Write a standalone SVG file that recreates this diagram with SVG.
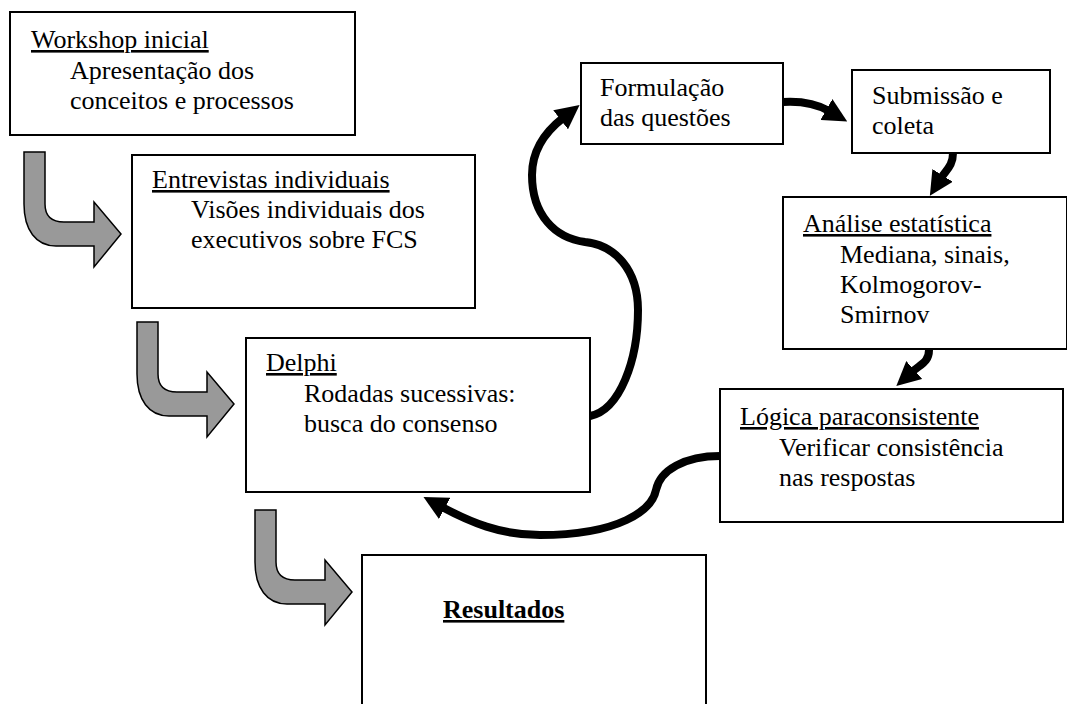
<svg xmlns="http://www.w3.org/2000/svg" xmlns:xlink="http://www.w3.org/1999/xlink" width="1067" height="704" viewBox="0 0 1067 704" font-family="'Liberation Serif', 'DejaVu Serif', serif">
<style>
.box{fill:#fff;stroke:#000;stroke-width:2}
text{font-family:'Liberation Serif','DejaVu Serif',serif;font-size:26px;fill:#000}
.t{text-decoration:underline}
.b{font-weight:bold;text-decoration:underline}
.con{fill:none;stroke:#000;stroke-width:8}
.garr{fill:#999;stroke:#000;stroke-width:1.5;stroke-linejoin:miter}
</style>
<defs>
<marker id="ah" viewBox="0 0 24 24" refX="3" refY="12" markerWidth="24" markerHeight="24" orient="auto" markerUnits="userSpaceOnUse"><path d="M0,0 L24,12 L0,24 Z" fill="#000"/></marker>
<path id="bend" d="M0,0 H21 V52 Q21,70 40,70 H70 V50 L97,82 L70,115 V94 H32 C12,94 0,78 0,52 Z"/>
</defs>
<rect width="1067" height="704" fill="#fff"/>
<g id="workshop">
<rect class="box" x="10" y="12" width="345" height="123"/>
<text x="31" y="48" class="t">Workshop inicial</text>
<text x="70" y="79">Apresentação dos</text>
<text x="70" y="109">conceitos e processos</text>
</g>
<g id="entrevistas">
<rect class="box" x="132" y="155" width="343" height="153"/>
<text x="152" y="188" class="t">Entrevistas individuais</text>
<text x="191" y="218">Visões individuais dos</text>
<text x="191" y="248">executivos sobre FCS</text>
</g>
<g id="delphi">
<rect class="box" x="246" y="338" width="344" height="154"/>
<text x="266" y="371" class="t">Delphi</text>
<text x="304" y="402">Rodadas sucessivas:</text>
<text x="304" y="432">busca do consenso</text>
</g>
<g id="resultados">
<rect class="box" x="362" y="555" width="344" height="160"/>
<text x="443" y="618" class="b">Resultados</text>
</g>
<g id="formulacao">
<rect class="box" x="581" y="63" width="202" height="81"/>
<text x="600" y="96">Formulação</text>
<text x="600" y="126">das questões</text>
</g>
<g id="submissao">
<rect class="box" x="852" y="70" width="198" height="83"/>
<text x="872" y="104">Submissão e</text>
<text x="872" y="134">coleta</text>
</g>
<g id="analise">
<rect class="box" x="783" y="197" width="284" height="152"/>
<text x="803" y="232" class="t">Análise estatística</text>
<text x="840" y="263">Mediana, sinais,</text>
<text x="840" y="293">Kolmogorov-</text>
<text x="840" y="323">Smirnov</text>
</g>
<g id="logica">
<rect class="box" x="720" y="389" width="343" height="133"/>
<text x="740" y="425" class="t">Lógica paraconsistente</text>
<text x="779" y="456">Verificar consistência</text>
<text x="779" y="486">nas respostas</text>
</g>
<g id="connectors">
<use xlink:href="#bend" class="garr" transform="translate(24,152)"/>
<use xlink:href="#bend" class="garr" transform="translate(137,322)"/>
<use xlink:href="#bend" class="garr" transform="translate(255,510)"/>
<path class="con" marker-end="url(#ah)" d="M590,416 C620,410 638,360 638,310 C638,270 615,245 585,242 C555,238 532,215 532,175 C532,150 545,132 563,118"/>
<path class="con" marker-end="url(#ah)" d="M783,102 C800,101 815,103 829,111"/>
<path class="con" marker-end="url(#ah)" d="M953,153 C953,166 946,170 941,178"/>
<path class="con" marker-end="url(#ah)" d="M929,350 C929,362 921,364 912,372"/>
<path class="con" marker-end="url(#ah)" d="M720,456 C685,456 660,470 656,490 C652,510 620,535 540,535 C500,535 470,522 442,507"/>
</g>
</svg>
